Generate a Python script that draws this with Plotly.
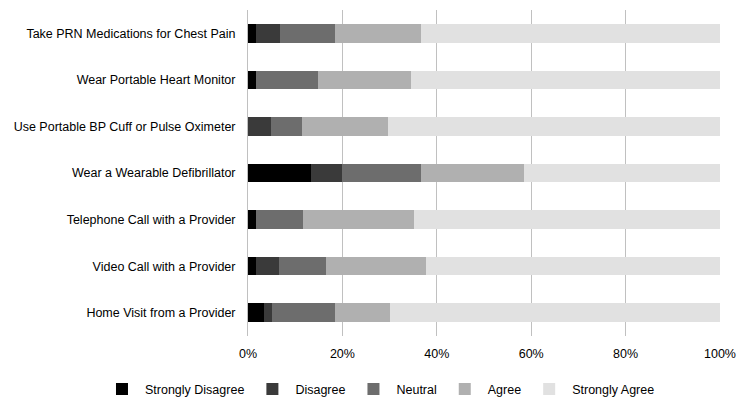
import plotly.graph_objects as go

categories = [
    "Take PRN Medications for Chest Pain",
    "Wear Portable Heart Monitor",
    "Use Portable BP Cuff or Pulse Oximeter",
    "Wear a Wearable Defibrillator",
    "Telephone Call with a Provider",
    "Video Call with a Provider",
    "Home Visit from a Provider",
]
strongly_disagree = [1.7, 1.7, 0.0, 13.3, 1.7, 1.7, 3.4]
disagree = [5.0, 0.0, 4.9, 6.7, 0.0, 4.9, 1.6]
neutral = [11.7, 13.1, 6.6, 16.7, 10.0, 9.9, 13.4]
agree = [18.3, 19.7, 18.1, 21.7, 23.4, 21.2, 11.7]
strongly_agree = [63.3, 65.5, 70.4, 41.6, 64.9, 62.3, 69.9]

series = [
    ("Strongly Disagree", strongly_disagree, "#000000"),
    ("Disagree", disagree, "#3a3a3a"),
    ("Neutral", neutral, "#6d6d6d"),
    ("Agree", agree, "#b0b0b0"),
    ("Strongly Agree", strongly_agree, "#e1e1e1"),
]

FONT = "Liberation Sans, Arial, sans-serif"
FS = 12.5

fig = go.Figure()
for name, vals, color in series:
    fig.add_trace(go.Bar(
        y=categories, x=vals, name=name, orientation="h",
        marker=dict(color=color, line=dict(width=0)),
    ))

fig.update_layout(
    width=750, height=414,
    barmode="stack",
    bargap=0.6,
    plot_bgcolor="white",
    paper_bgcolor="white",
    margin=dict(l=248, r=30, t=10, b=76),
    font=dict(family=FONT, size=FS, color="#000000"),
    xaxis=dict(
        range=[0, 100], tickvals=[0, 20, 40, 60, 80, 100],
        ticktext=["0%", "20%", "40%", "60%", "80%", "100%"],
        showgrid=True, gridcolor="#c0c0c0", gridwidth=1,
        zeroline=False, showline=False, ticks="",
        ticklen=0, tickfont=dict(size=FS), ticklabelstandoff=8,
        automargin=False,
    ),
    yaxis=dict(
        categoryorder="array", categoryarray=categories[::-1],
        showline=True, linecolor="#c0c0c0", linewidth=1,
        ticks="", ticklen=0, showgrid=False,
        tickfont=dict(size=FS), ticklabelstandoff=9,
        automargin=False,
    ),
    legend=dict(
        orientation="h", x=-0.3157, xanchor="left", y=-0.118, yanchor="top",
        traceorder="normal", font=dict(size=FS),
        itemwidth=36,
    ),
)

fig.write_html("out.html")
